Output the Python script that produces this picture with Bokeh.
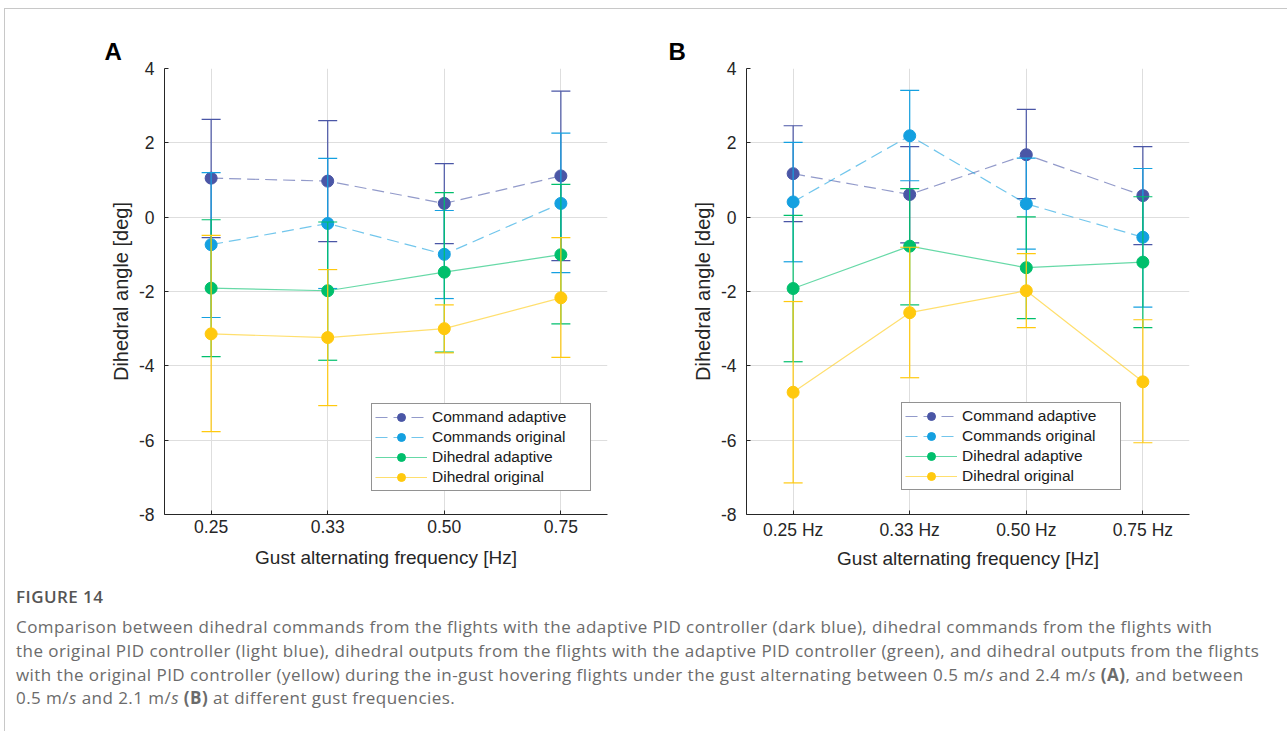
from bokeh.plotting import figure
from bokeh.layouts import column, row
from bokeh.models import (ColumnDataSource, FixedTicker, Legend, LegendItem, Div)
from bokeh.embed import file_html
from bokeh.resources import INLINE

# ---------------- data ----------------
x_pos = [1, 2, 3, 4]
ticks_A = ["0.25", "0.33", "0.50", "0.75"]
ticks_B = ["0.25 Hz", "0.33 Hz", "0.50 Hz", "0.75 Hz"]
series_names = ["Command adaptive", "Commands original", "Dihedral adaptive", "Dihedral original"]

# Panel A (gust 0.5 - 2.4 m/s)
A_cmd_adapt = [1.05, 0.97, 0.37, 1.11]
A_cmd_adapt_hi = [2.63, 2.60, 1.44, 3.39]
A_cmd_adapt_lo = [-0.55, -0.66, -0.71, -1.17]
A_cmd_orig = [-0.74, -0.17, -1.00, 0.37]
A_cmd_orig_hi = [1.20, 1.58, 0.18, 2.26]
A_cmd_orig_lo = [-2.70, -1.92, -2.19, -1.49]
A_dih_adapt = [-1.91, -1.98, -1.48, -1.01]
A_dih_adapt_hi = [-0.07, -0.13, 0.66, 0.88]
A_dih_adapt_lo = [-3.75, -3.85, -3.63, -2.87]
A_dih_orig = [-3.14, -3.24, -3.00, -2.17]
A_dih_orig_hi = [-0.49, -1.41, -2.36, -0.55]
A_dih_orig_lo = [-5.77, -5.07, -3.65, -3.77]

# Panel B (gust 0.5 - 2.1 m/s)
B_cmd_adapt = [1.17, 0.61, 1.68, 0.58]
B_cmd_adapt_hi = [2.46, 1.90, 2.90, 1.90]
B_cmd_adapt_lo = [-0.12, -0.69, 0.50, -0.74]
B_cmd_orig = [0.41, 2.19, 0.36, -0.54]
B_cmd_orig_hi = [2.01, 3.41, 1.59, 1.31]
B_cmd_orig_lo = [-1.20, 0.98, -0.86, -2.42]
B_dih_adapt = [-1.92, -0.78, -1.36, -1.21]
B_dih_adapt_hi = [0.05, 0.77, 0.01, 0.55]
B_dih_adapt_lo = [-3.89, -2.36, -2.73, -2.97]
B_dih_orig = [-4.71, -2.57, -1.98, -4.43]
B_dih_orig_hi = [-2.27, -0.81, -0.98, -2.76]
B_dih_orig_lo = [-7.15, -4.32, -2.97, -6.07]

y_ticks = [-8, -6, -4, -2, 0, 2, 4]
y_tick_labels = ["-8", "-6", "-4", "-2", "0", "2", "4"]

colors = ["#4a56a6", "#14a0e0", "#00bf6c", "#ffc90e"]
dashes = ["12 6", "12 6", "solid", "solid"]

FONT = "Liberation Sans"


def make_panel(letter, letter_offset, tick_labels, data, width, mb_left, mb_right,
               legend_xy, xlabel_standoff):
    p = figure(width=width, height=567, x_range=(0.6, 4.4), y_range=(-8, 4),
               output_backend="svg", toolbar_location=None,
               min_border_left=mb_left, min_border_right=mb_right,
               min_border_top=59, min_border_bottom=62)
    p.outline_line_color = None
    p.background_fill_color = "white"
    p.border_fill_color = "white"

    p.title.text = letter
    p.title.text_font = FONT
    p.title.text_font_size = "24px"
    p.title.text_font_style = "bold"
    p.title.text_color = "black"
    p.title.align = "left"
    p.title.offset = letter_offset
    p.title.standoff = 7

    for ax in (p.xaxis[0], p.yaxis[0]):
        ax.axis_line_color = "#262626"
        ax.axis_line_width = 1
        ax.major_tick_in = 4
        ax.major_tick_out = 0
        ax.minor_tick_line_color = None
        ax.major_tick_line_color = "#262626"
        ax.major_label_text_font = FONT
        ax.major_label_text_font_size = "17.5px"
        ax.major_label_text_color = "#262626"
        ax.axis_label_text_font = FONT
        ax.axis_label_text_font_style = "normal"
        ax.axis_label_text_color = "#262626"

    p.xaxis[0].ticker = FixedTicker(ticks=x_pos)
    p.xaxis[0].major_label_overrides = {x: t for x, t in zip(x_pos, tick_labels)}
    p.xaxis[0].axis_label = "Gust alternating frequency [Hz]"
    p.xaxis[0].axis_label_text_font_size = "19px"
    p.xaxis[0].major_label_standoff = 5
    p.xaxis[0].axis_label_standoff = xlabel_standoff
    p.yaxis[0].ticker = FixedTicker(ticks=y_ticks)
    p.yaxis[0].major_label_overrides = {v: t for v, t in zip(y_ticks, y_tick_labels)}
    p.yaxis[0].axis_label = "Dihedral angle [deg]"
    p.yaxis[0].axis_label_text_font_size = "20px"
    p.yaxis[0].major_label_standoff = 10
    p.yaxis[0].axis_label_standoff = 4

    p.xgrid[0].ticker = FixedTicker(ticks=x_pos)
    p.ygrid[0].ticker = FixedTicker(ticks=y_ticks)
    for g in (p.xgrid[0], p.ygrid[0]):
        g.grid_line_color = "#dedede"
        g.grid_line_width = 1

    items = []
    for name, (mid, hi, lo), col, dash in zip(series_names, data, colors, dashes):
        src = ColumnDataSource(dict(x=x_pos, y=mid, hi=hi, lo=lo))
        ln = p.line("x", "y", source=src, line_color=col, line_width=1.2,
                    line_alpha=0.6, line_dash=dash)
        p.segment(x0="x", y0="lo", x1="x", y1="hi", source=src,
                  line_color=col, line_width=1.2)
        p.scatter("x", "hi", source=src, marker="dash", size=19,
                  line_color=col, line_width=1.2)
        p.scatter("x", "lo", source=src, marker="dash", size=19,
                  line_color=col, line_width=1.2)
        mk = p.scatter("x", "y", source=src, marker="circle", size=12,
                       fill_color=col, line_color=col)
        # legend-only vertical error-bar glyph
        leg_bar = p.scatter(x=[], y=[], marker="line", size=20,
                            line_color=col, line_width=1.2)
        items.append(LegendItem(label=name, renderers=[ln, leg_bar, mk]))

    legend = Legend(items=items, location=legend_xy,
                    label_text_font=FONT, label_text_font_size="15.5px",
                    label_text_color="#1a1a1a",
                    glyph_width=52, glyph_height=20, label_height=20,
                    spacing=0, padding=3, margin=0, label_standoff=5,
                    label_width=155,
                    border_line_color="#262626", border_line_width=1,
                    background_fill_color="white", background_fill_alpha=1.0)
    p.add_layout(legend)
    return p


data_A = [(A_cmd_adapt, A_cmd_adapt_hi, A_cmd_adapt_lo),
          (A_cmd_orig, A_cmd_orig_hi, A_cmd_orig_lo),
          (A_dih_adapt, A_dih_adapt_hi, A_dih_adapt_lo),
          (A_dih_orig, A_dih_orig_hi, A_dih_orig_lo)]
data_B = [(B_cmd_adapt, B_cmd_adapt_hi, B_cmd_adapt_lo),
          (B_cmd_orig, B_cmd_orig_hi, B_cmd_orig_lo),
          (B_dih_adapt, B_dih_adapt_hi, B_dih_adapt_lo),
          (B_dih_orig, B_dih_orig_hi, B_dih_orig_lo)]

pA = make_panel("A", -60, ticks_A, data_A, 635, 159, 33, (207, 23), 11)
pB = make_panel("B", -78, ticks_B, data_B, 647, 106, 98, (155, 24), 5)

caption_html = (
    '<div style="font-family:\'Open Sans\',sans-serif;color:#6b6b6b;letter-spacing:0.45px;">'
    '<div style="font-size:17px;font-weight:600;color:#555;'
    'margin-bottom:6px;">FIGURE 14</div>'
    '<div style="font-size:17px;line-height:23.7px;">'
    'Comparison between dihedral commands from the flights with the adaptive PID controller (dark blue), '
    'dihedral commands from the flights with<br>'
    'the original PID controller (light blue), dihedral outputs from the flights with the adaptive PID '
    'controller (green), and dihedral outputs from the flights<br>'
    'with the original PID controller (yellow) during the in-gust hovering flights under the gust '
    'alternating between 0.5 m/<i>s</i> and 2.4 m/<i>s</i> <b>(A)</b>, and between<br>'
    '0.5 m/<i>s</i> and 2.1 m/<i>s</i> <b>(B)</b> at different gust frequencies.'
    '</div></div>'
)
cap = Div(text=caption_html, width=1275, height=155,
          styles={"padding-left": "6px", "padding-top": "4px", "white-space": "nowrap"})

layout = column(row(pA, pB), cap, margin=(8, 0, 0, 4),
                styles={"border-top": "1px solid #c8c8c8",
                        "border-left": "1px solid #c8c8c8",
                        "background-color": "white"})

open("out.html", "w").write(file_html(layout, INLINE))
